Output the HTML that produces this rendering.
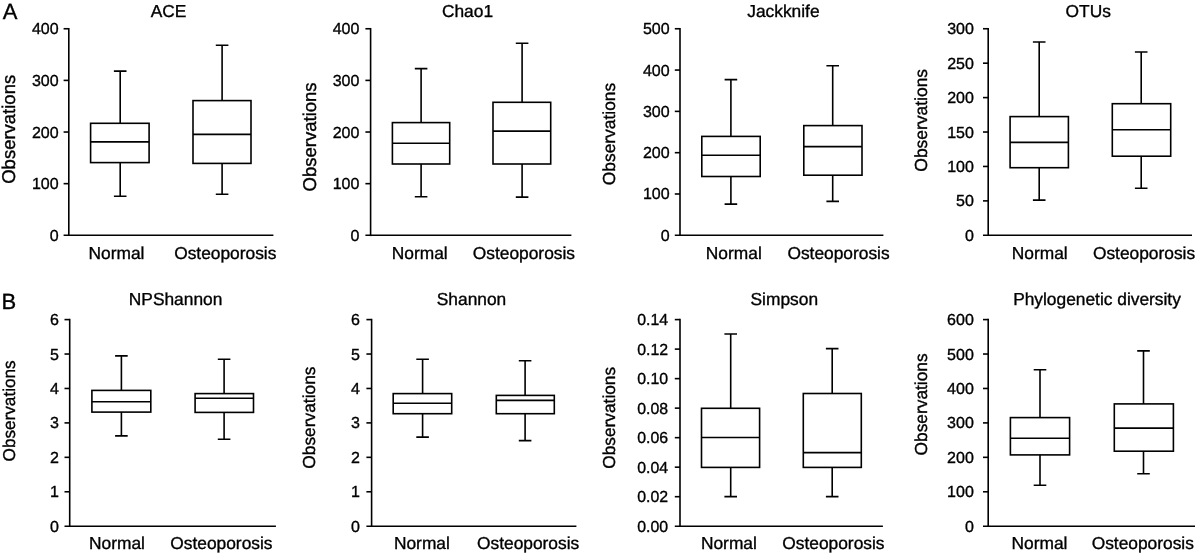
<!DOCTYPE html>
<html lang="en"><head><meta charset="utf-8"><title>Alpha diversity box plots</title>
<style>html,body{margin:0;padding:0;background:#fff}svg{display:block}text{font-family:"Liberation Sans", Arial, Helvetica, sans-serif;fill:#000;stroke:#000;stroke-width:0.35px;text-rendering:geometricPrecision}.ln{stroke:#000;stroke-width:1.6;fill:none;stroke-linecap:butt}.bx{stroke:#000;stroke-width:1.6;fill:#fff}.tk{font-size:16px;text-anchor:end}.lb{font-size:17.35px;text-anchor:middle}.tt{font-size:17.35px;text-anchor:middle}.yl{text-anchor:middle}.pl{font-size:22px}</style></head><body>
<svg width="1198" height="557" viewBox="0 0 1198 557">
<rect width="1198" height="557" fill="#fff"/>
<text class="pl" x="2.7" y="18.6">A</text>
<text class="pl" x="1.6" y="309.2">B</text>
<g>
<text class="tt" x="168.6" y="17.1">ACE</text>
<text class="yl" font-size="18.5" transform="translate(15.1 129.3) rotate(-90)">Observations</text>
<path class="ln" d="M63.6 28.75H68.8" />
<path class="ln" d="M68.8 27.95V236.10"/>
<path class="ln" d="M63.6 235.30H273.4"/>
<text class="tk" transform="translate(58.6 240.80) scale(1.0 1)">0</text>
<path class="ln" d="M63.6 183.66H68.8"/>
<text class="tk" transform="translate(58.6 189.16) scale(1.0 1)">100</text>
<path class="ln" d="M63.6 132.03H68.8"/>
<text class="tk" transform="translate(58.6 137.53) scale(1.0 1)">200</text>
<path class="ln" d="M63.6 80.39H68.8"/>
<text class="tk" transform="translate(58.6 85.89) scale(1.0 1)">300</text>
<text class="tk" transform="translate(58.6 34.25) scale(1.0 1)">400</text>
<path class="ln" d="M120.2 71.1V196.3M113.9 71.1H126.5M113.9 196.3H126.5"/>
<rect class="bx" x="90.6" y="123.3" width="58.5" height="39.3"/>
<path class="ln" d="M90.6 141.9H149.1"/>
<path class="ln" d="M222.1 45.2V194.3M215.79999999999998 45.2H228.4M215.79999999999998 194.3H228.4"/>
<rect class="bx" x="193.0" y="100.6" width="58.0" height="62.8"/>
<path class="ln" d="M193.0 134.4H251.0"/>
<text class="lb" x="116.5" y="258.6">Normal</text>
<text class="lb" x="225.3" y="258.6">Osteoporosis</text>
</g>
<g>
<text class="tt" x="467.5" y="17.1">Chao1</text>
<text class="yl" font-size="18.5" transform="translate(315.6 136.9) rotate(-90)">Observations</text>
<path class="ln" d="M365.4 28.75H370.6" />
<path class="ln" d="M370.6 27.95V236.10"/>
<path class="ln" d="M365.4 235.30H571.4"/>
<text class="tk" transform="translate(359.4 240.80) scale(1.0 1)">0</text>
<path class="ln" d="M365.4 183.66H370.6"/>
<text class="tk" transform="translate(359.4 189.16) scale(1.0 1)">100</text>
<path class="ln" d="M365.4 132.03H370.6"/>
<text class="tk" transform="translate(359.4 137.53) scale(1.0 1)">200</text>
<path class="ln" d="M365.4 80.39H370.6"/>
<text class="tk" transform="translate(359.4 85.89) scale(1.0 1)">300</text>
<text class="tk" transform="translate(359.4 34.25) scale(1.0 1)">400</text>
<path class="ln" d="M421.1 68.6V196.8M414.8 68.6H427.40000000000003M414.8 196.8H427.40000000000003"/>
<rect class="bx" x="392.4" y="122.6" width="57.3" height="41.4"/>
<path class="ln" d="M392.4 143.2H449.7"/>
<path class="ln" d="M522.1 43.2V197.1M515.8000000000001 43.2H528.4M515.8000000000001 197.1H528.4"/>
<rect class="bx" x="493" y="102.3" width="57.7" height="61.7"/>
<path class="ln" d="M493 131.1H550.7"/>
<text class="lb" x="419.7" y="258.6">Normal</text>
<text class="lb" x="523.9" y="258.6">Osteoporosis</text>
</g>
<g>
<text class="tt" x="783.4" y="17.1">Jackknife</text>
<text class="yl" font-size="17.4" transform="translate(615.2 134.0) rotate(-90)">Observations</text>
<path class="ln" d="M674.8 28.75H680.0" />
<path class="ln" d="M680.0 27.95V236.10"/>
<path class="ln" d="M674.8 235.30H883.4"/>
<text class="tk" transform="translate(669.6 240.80) scale(1.0 1)">0</text>
<path class="ln" d="M674.8 193.99H680.0"/>
<text class="tk" transform="translate(669.6 199.49) scale(1.0 1)">100</text>
<path class="ln" d="M674.8 152.68H680.0"/>
<text class="tk" transform="translate(669.6 158.18) scale(1.0 1)">200</text>
<path class="ln" d="M674.8 111.37H680.0"/>
<text class="tk" transform="translate(669.6 116.87) scale(1.0 1)">300</text>
<path class="ln" d="M674.8 70.06H680.0"/>
<text class="tk" transform="translate(669.6 75.56) scale(1.0 1)">400</text>
<text class="tk" transform="translate(669.6 34.25) scale(1.0 1)">500</text>
<path class="ln" d="M730.9 79.6V204.1M724.6 79.6H737.1999999999999M724.6 204.1H737.1999999999999"/>
<rect class="bx" x="701.8" y="136.4" width="58.4" height="40.1"/>
<path class="ln" d="M701.8 155.3H760.2"/>
<path class="ln" d="M832.7 65.8V201.4M826.4000000000001 65.8H839.0M826.4000000000001 201.4H839.0"/>
<rect class="bx" x="803.8" y="125.6" width="58.2" height="49.6"/>
<path class="ln" d="M803.8 146.6H862.0"/>
<text class="lb" x="733.8" y="258.6">Normal</text>
<text class="lb" x="838.5" y="258.6">Osteoporosis</text>
</g>
<g>
<text class="tt" x="1088.2" y="17.1">OTUs</text>
<text class="yl" font-size="17.45" transform="translate(926.7 120.3) rotate(-90)">Observations</text>
<path class="ln" d="M983.0 28.75H988.2" />
<path class="ln" d="M988.2 27.95V236.10"/>
<path class="ln" d="M983.0 235.30H1192.0"/>
<text class="tk" transform="translate(973.9 240.80) scale(1.0 1)">0</text>
<path class="ln" d="M983.0 200.88H988.2"/>
<text class="tk" transform="translate(973.9 206.38) scale(1.0 1)">50</text>
<path class="ln" d="M983.0 166.45H988.2"/>
<text class="tk" transform="translate(973.9 171.95) scale(1.0 1)">100</text>
<path class="ln" d="M983.0 132.02H988.2"/>
<text class="tk" transform="translate(973.9 137.52) scale(1.0 1)">150</text>
<path class="ln" d="M983.0 97.60H988.2"/>
<text class="tk" transform="translate(973.9 103.10) scale(1.0 1)">200</text>
<path class="ln" d="M983.0 63.18H988.2"/>
<text class="tk" transform="translate(973.9 68.68) scale(1.0 1)">250</text>
<text class="tk" transform="translate(973.9 34.25) scale(1.0 1)">300</text>
<path class="ln" d="M1039.2 42V200.1M1032.9 42H1045.5M1032.9 200.1H1045.5"/>
<rect class="bx" x="1010.1" y="116.6" width="58.3" height="51.1"/>
<path class="ln" d="M1010.1 142.4H1068.4"/>
<path class="ln" d="M1141.2 52V188.3M1134.9 52H1147.5M1134.9 188.3H1147.5"/>
<rect class="bx" x="1112.3" y="103.7" width="58.4" height="52.5"/>
<path class="ln" d="M1112.3 129.8H1170.7"/>
<text class="lb" x="1039.7" y="258.6">Normal</text>
<text class="lb" x="1144" y="258.6">Osteoporosis</text>
</g>
<g>
<text class="tt" x="175.6" y="305.1">NPShannon</text>
<text class="yl" font-size="17.15" transform="translate(15.1 410.9) rotate(-90)">Observations</text>
<path class="ln" d="M64.5 319.60H69.7" />
<path class="ln" d="M69.7 318.80V527.00"/>
<path class="ln" d="M64.5 526.20H275.9"/>
<text class="tk" transform="translate(59.0 531.70) scale(1.0 1)">0</text>
<path class="ln" d="M64.5 491.77H69.7"/>
<text class="tk" transform="translate(59.0 497.27) scale(1.0 1)">1</text>
<path class="ln" d="M64.5 457.33H69.7"/>
<text class="tk" transform="translate(59.0 462.83) scale(1.0 1)">2</text>
<path class="ln" d="M64.5 422.90H69.7"/>
<text class="tk" transform="translate(59.0 428.40) scale(1.0 1)">3</text>
<path class="ln" d="M64.5 388.47H69.7"/>
<text class="tk" transform="translate(59.0 393.97) scale(1.0 1)">4</text>
<path class="ln" d="M64.5 354.03H69.7"/>
<text class="tk" transform="translate(59.0 359.53) scale(1.0 1)">5</text>
<text class="tk" transform="translate(59.0 325.10) scale(1.0 1)">6</text>
<path class="ln" d="M121.4 355.9V435.9M115.10000000000001 355.9H127.7M115.10000000000001 435.9H127.7"/>
<rect class="bx" x="91.9" y="390.4" width="58.9" height="21.7"/>
<path class="ln" d="M91.9 401.7H150.8"/>
<path class="ln" d="M224.1 359.3V439.2M217.79999999999998 359.3H230.4M217.79999999999998 439.2H230.4"/>
<rect class="bx" x="195.1" y="393.6" width="58.4" height="18.8"/>
<path class="ln" d="M195.1 398.3H253.5"/>
<text class="lb" x="117" y="549.4">Normal</text>
<text class="lb" x="221.4" y="549.4">Osteoporosis</text>
</g>
<g>
<text class="tt" x="471.5" y="305.1">Shannon</text>
<text class="yl" font-size="17.35" transform="translate(315.1 417.6) rotate(-90)">Observations</text>
<path class="ln" d="M366.4 319.60H371.6" />
<path class="ln" d="M371.6 318.80V527.00"/>
<path class="ln" d="M366.4 526.20H576.4"/>
<text class="tk" transform="translate(359.9 531.70) scale(1.0 1)">0</text>
<path class="ln" d="M366.4 491.77H371.6"/>
<text class="tk" transform="translate(359.9 497.27) scale(1.0 1)">1</text>
<path class="ln" d="M366.4 457.33H371.6"/>
<text class="tk" transform="translate(359.9 462.83) scale(1.0 1)">2</text>
<path class="ln" d="M366.4 422.90H371.6"/>
<text class="tk" transform="translate(359.9 428.40) scale(1.0 1)">3</text>
<path class="ln" d="M366.4 388.47H371.6"/>
<text class="tk" transform="translate(359.9 393.97) scale(1.0 1)">4</text>
<path class="ln" d="M366.4 354.03H371.6"/>
<text class="tk" transform="translate(359.9 359.53) scale(1.0 1)">5</text>
<text class="tk" transform="translate(359.9 325.10) scale(1.0 1)">6</text>
<path class="ln" d="M422.6 359.2V437.1M416.3 359.2H428.90000000000003M416.3 437.1H428.90000000000003"/>
<rect class="bx" x="393.2" y="393.6" width="58.5" height="20.1"/>
<path class="ln" d="M393.2 403.2H451.7"/>
<path class="ln" d="M525.1 360.8V440.6M518.8000000000001 360.8H531.4M518.8000000000001 440.6H531.4"/>
<rect class="bx" x="496.3" y="395.4" width="58.0" height="18.3"/>
<path class="ln" d="M496.3 400.4H554.3"/>
<text class="lb" x="421.9" y="549.4">Normal</text>
<text class="lb" x="528.1" y="549.4">Osteoporosis</text>
</g>
<g>
<text class="tt" x="784.3" y="305.1">Simpson</text>
<text class="yl" font-size="17.3" transform="translate(615.1 417.8) rotate(-90)">Observations</text>
<path class="ln" d="M674.8 319.60H680.0" />
<path class="ln" d="M680.0 318.80V527.00"/>
<path class="ln" d="M674.8 526.20H882.9"/>
<text class="tk" transform="translate(668.1 531.70) scale(0.99 1)">0.00</text>
<path class="ln" d="M674.8 496.69H680.0"/>
<text class="tk" transform="translate(668.1 502.19) scale(0.99 1)">0.02</text>
<path class="ln" d="M674.8 467.17H680.0"/>
<text class="tk" transform="translate(668.1 472.67) scale(0.99 1)">0.04</text>
<path class="ln" d="M674.8 437.66H680.0"/>
<text class="tk" transform="translate(668.1 443.16) scale(0.99 1)">0.06</text>
<path class="ln" d="M674.8 408.14H680.0"/>
<text class="tk" transform="translate(668.1 413.64) scale(0.99 1)">0.08</text>
<path class="ln" d="M674.8 378.63H680.0"/>
<text class="tk" transform="translate(668.1 384.13) scale(0.99 1)">0.10</text>
<path class="ln" d="M674.8 349.11H680.0"/>
<text class="tk" transform="translate(668.1 354.61) scale(0.99 1)">0.12</text>
<text class="tk" transform="translate(668.1 325.10) scale(0.99 1)">0.14</text>
<path class="ln" d="M730.7 334V496.6M724.4000000000001 334H737.0M724.4000000000001 496.6H737.0"/>
<rect class="bx" x="701.5" y="408.3" width="58.1" height="59.1"/>
<path class="ln" d="M701.5 437.5H759.6"/>
<path class="ln" d="M832.2 348.6V496.6M825.9000000000001 348.6H838.5M825.9000000000001 496.6H838.5"/>
<rect class="bx" x="803.3" y="393.5" width="58.0" height="73.9"/>
<path class="ln" d="M803.3 452.6H861.3"/>
<text class="lb" x="728.9" y="549.4">Normal</text>
<text class="lb" x="833.4" y="549.4">Osteoporosis</text>
</g>
<g>
<text class="tt" x="1097" y="305.1">Phylogenetic diversity</text>
<text class="yl" font-size="17.35" transform="translate(926.6 404.4) rotate(-90)">Observations</text>
<path class="ln" d="M983.0 319.60H988.2" />
<path class="ln" d="M988.2 318.80V527.00"/>
<path class="ln" d="M983.0 526.20H1195.0"/>
<text class="tk" transform="translate(973.8 531.70) scale(1.0 1)">0</text>
<path class="ln" d="M983.0 491.77H988.2"/>
<text class="tk" transform="translate(973.8 497.27) scale(1.0 1)">100</text>
<path class="ln" d="M983.0 457.33H988.2"/>
<text class="tk" transform="translate(973.8 462.83) scale(1.0 1)">200</text>
<path class="ln" d="M983.0 422.90H988.2"/>
<text class="tk" transform="translate(973.8 428.40) scale(1.0 1)">300</text>
<path class="ln" d="M983.0 388.47H988.2"/>
<text class="tk" transform="translate(973.8 393.97) scale(1.0 1)">400</text>
<path class="ln" d="M983.0 354.03H988.2"/>
<text class="tk" transform="translate(973.8 359.53) scale(1.0 1)">500</text>
<text class="tk" transform="translate(973.8 325.10) scale(1.0 1)">600</text>
<path class="ln" d="M1040 369.7V485.3M1033.7 369.7H1046.3M1033.7 485.3H1046.3"/>
<rect class="bx" x="1010.4" y="417.6" width="59.2" height="37.3"/>
<path class="ln" d="M1010.4 438.3H1069.6"/>
<path class="ln" d="M1143.5 350.9V473.8M1137.2 350.9H1149.8M1137.2 473.8H1149.8"/>
<rect class="bx" x="1114.3" y="403.9" width="59.1" height="47.3"/>
<path class="ln" d="M1114.3 428.1H1173.4"/>
<text class="lb" x="1039.5" y="549.4">Normal</text>
<text class="lb" x="1142.8" y="549.4">Osteoporosis</text>
</g>
</svg></body></html>
